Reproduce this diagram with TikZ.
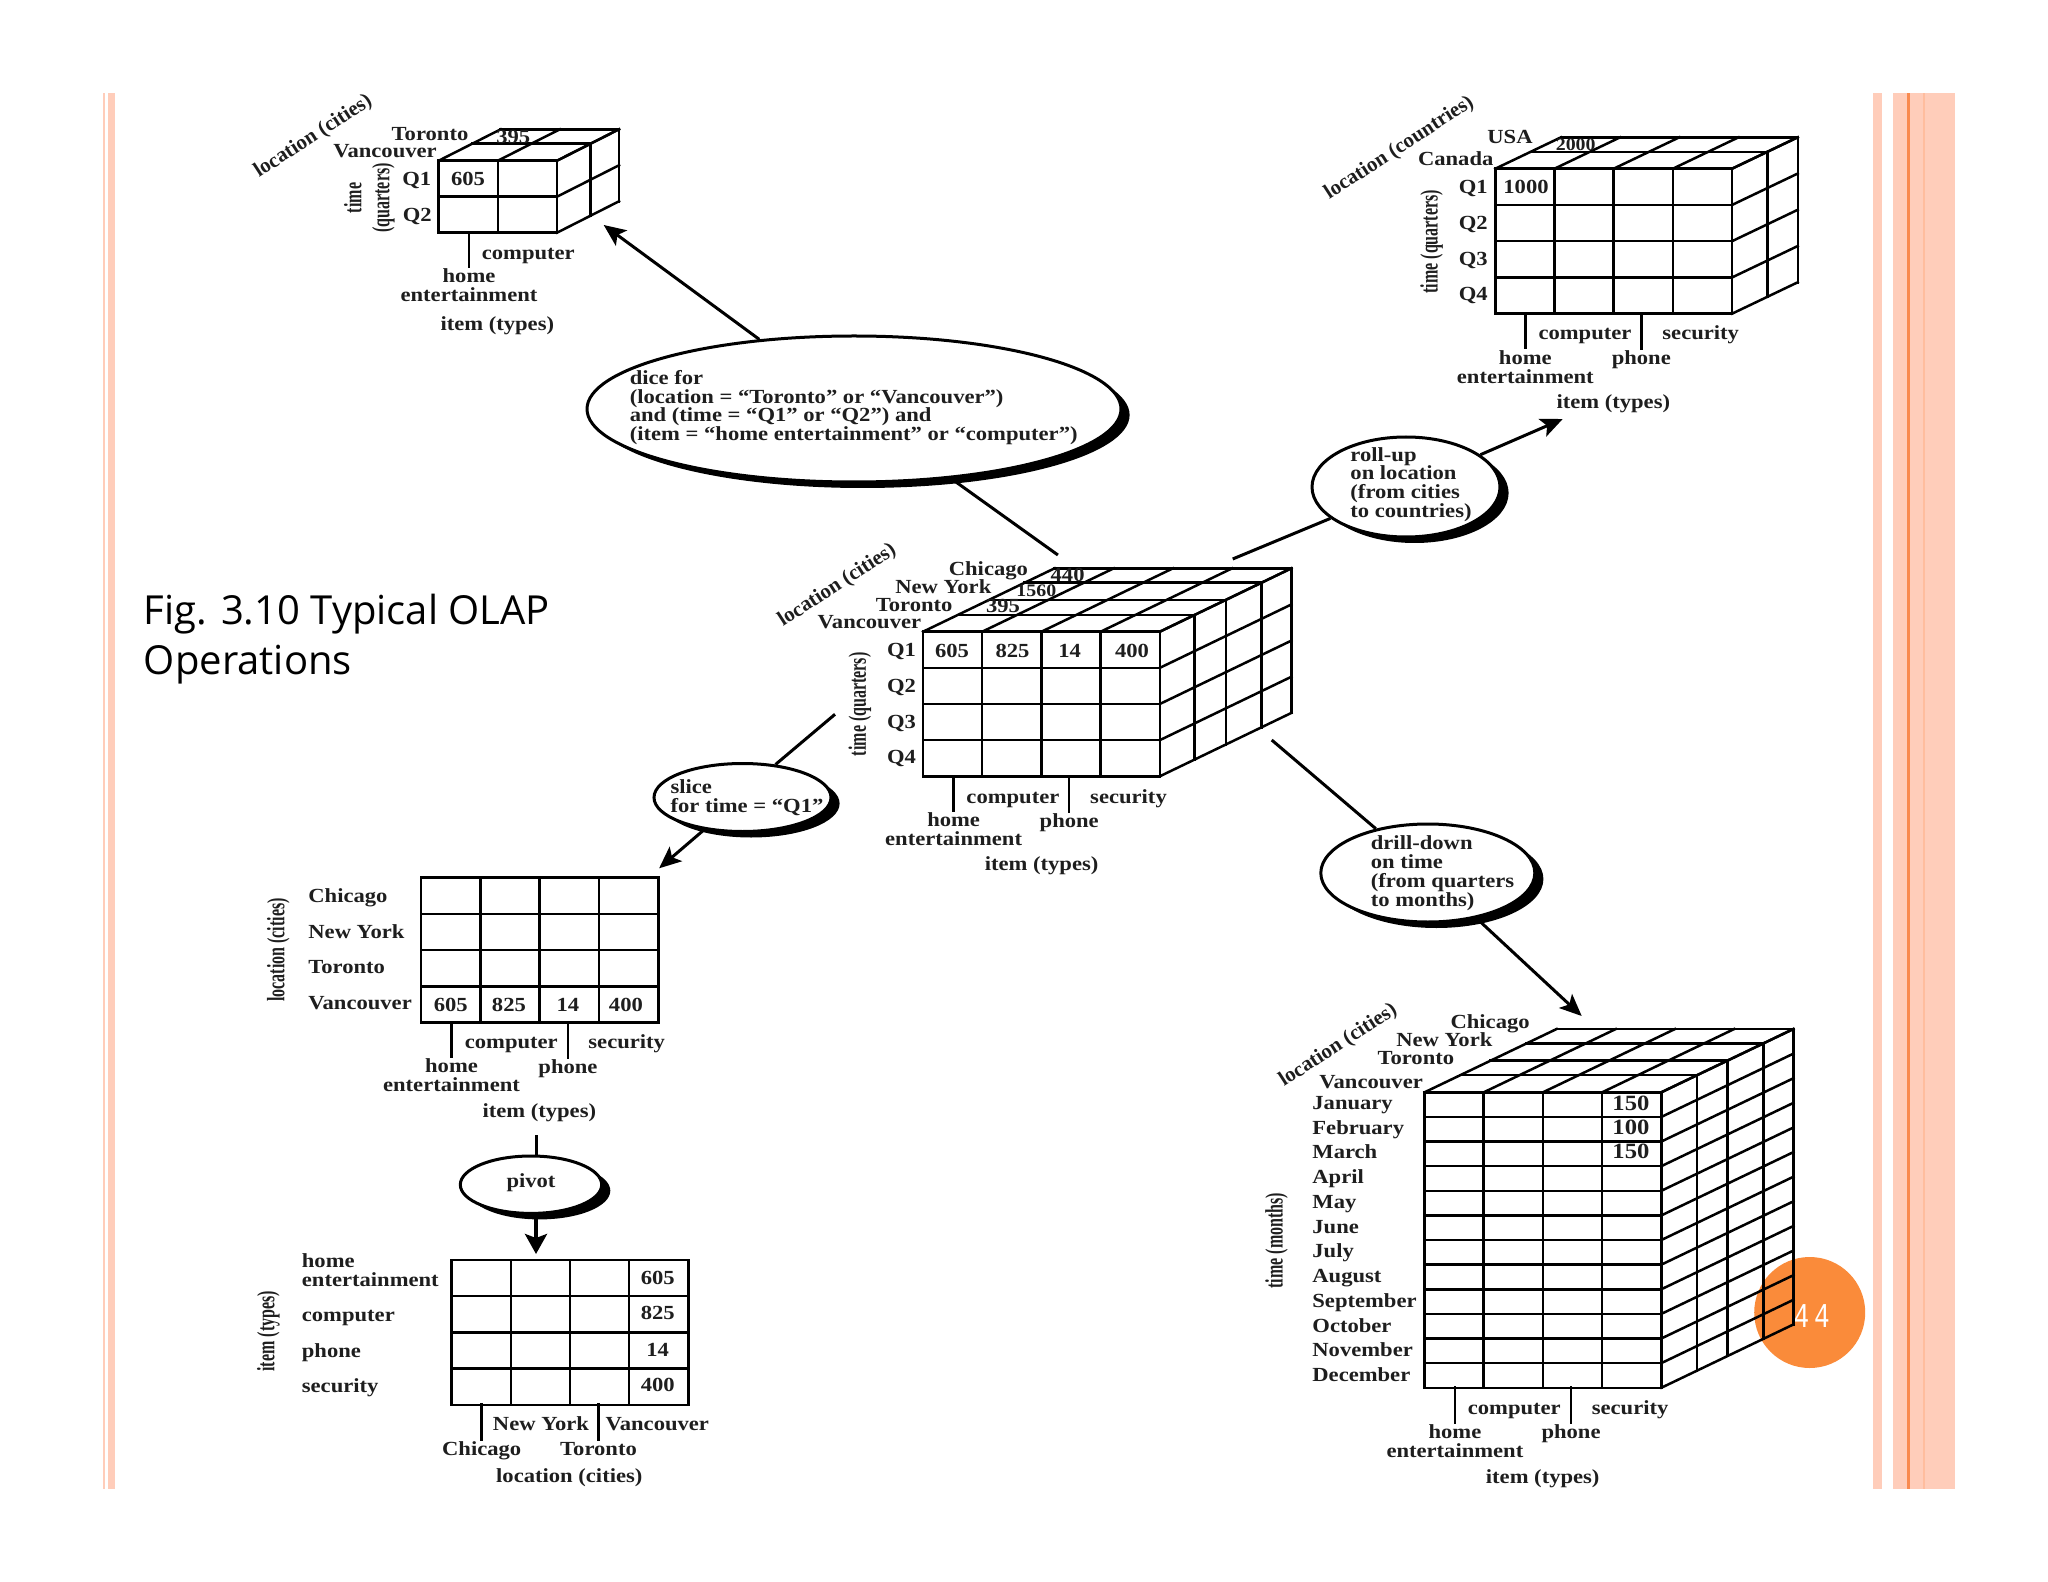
\documentclass[tikz,border=0pt]{standalone}
\usepackage{xcolor}
\usepackage{fontspec}
\usepackage{tikz}
\usetikzlibrary{shapes.geometric, arrows.meta, shadows}
\newfontfamily\lblfont[FakeStretch=1.13]{Liberation Serif}
\newfontfamily\axisfont{Liberation Serif}
\newfontfamily\narrowfont[FakeStretch=0.64]{Liberation Serif}
\newfontfamily\titlefont{Open Sans}
\newfontfamily\pagefont[FakeStretch=0.75]{Liberation Mono}
\definecolor{inktext}{RGB}{30, 30, 30}
\definecolor{peach}{RGB}{255, 205, 186}
\definecolor{peachmid}{RGB}{255, 189, 158}
\definecolor{peachdark}{RGB}{249, 138, 79}
\definecolor{badge}{RGB}{250, 139, 58}

% front face as a grid: x0, y0, column width, row height, columns, rows
\newcommand{\facegrid}[6]{%
  \foreach \c in {0,...,#5} \draw[cell] ({#1+\c*#3},#2) -- ++(0,{#6*#4});
  \foreach \r in {0,...,#6} \draw[cell] (#1,{#2+\r*#4}) -- ++({#5*#3},0);
}
% top and side of a cube: same six, then depth dx, dy, stops along the depth
\newcommand{\cubegrid}[9]{%
  \facegrid{#1}{#2}{#3}{#4}{#5}{#6}
  \foreach \c in {0,...,#5} \draw[cell] ({#1+\c*#3},#2) -- ++(#7,#8);
  \foreach \r in {0,...,#6} \draw[cell] ({#1+#5*#3},{#2+\r*#4}) -- ++(#7,#8);
  \foreach \f in {#9} \draw[cell] ({#1+\f*#7},{#2+\f*#8}) -- ++({#5*#3},0) -- ++(0,{#6*#4});
}

\begin{document}
\begin{tikzpicture}[x=0.5pt, y=-0.5pt,
  cell/.style={line width=1.25pt, line cap=rect, color=black},
  tick/.style={cell, shorten <=1pt},
  lblm/.style={font=\fontsize{10pt}{9.4pt}\selectfont\lblfont\bfseries,
    text=inktext, inner sep=0pt, align=center},
  lbl/.style={lblm, text height=6.6pt, text depth=0pt},
  lblw/.style={lbl, anchor=west},
  lblsm/.style={lbl, font=\fontsize{8.8pt}{9.4pt}\selectfont\lblfont\bfseries},
  lblbig/.style={lbl, font=\fontsize{10.9pt}{9.4pt}\selectfont\lblfont\bfseries},
  axis/.style={lblm, rotate=33, font=\fontsize{10.5pt}{9.4pt}\selectfont\axisfont\bfseries},
  axisv/.style={lblm, rotate=90,
    font=\fontsize{12.5pt}{14pt}\selectfont\narrowfont\bfseries},
  op/.style={ellipse, draw=black, fill=white, line width=1.5pt, inner sep=0pt,
    drop shadow={shadow xshift=4.3pt, shadow yshift=-3pt, fill=black, opacity=1}},
  arr/.style={-{Stealth[length=11pt, width=9.5pt, inset=2.5pt]}, line width=1.5pt},
  arrb/.style={-{Stealth[length=10pt, width=11pt, inset=2pt]}, line width=1.9pt},
  plain/.style={line width=1.5pt},
  band/.style={fill=peach, draw=none}
]
\useasboundingbox (0,0) rectangle (2048,1582);
\fill[white] (0,0) rectangle (2048,1582);
% Slide decoration
\fill[band] (103,92.7) rectangle (105.3,1489);
\fill[band] (107.5,92.7) rectangle (114.5,1489);
\fill[band] (1873.3,92.7) rectangle (1881.7,1489);
\fill[band] (1893,92.7) rectangle (1955,1489);
\fill[peachmid] (1923.3,92.7) rectangle (1925.3,1489);
\fill[peachdark] (1906.7,92.7) rectangle (1909.7,1489);
\node[circle, fill=badge, minimum size=55.5pt, inner sep=0pt] at (1809.7,1312.5) (badge) {};
\node[font=\fontsize{17.4pt}{17pt}\selectfont\pagefont, text=white, inner sep=0pt]
  at (1811.6,1316) (pageno) {4\kern2.4pt 4};
\node[font=\fontsize{20pt}{25pt}\selectfont\titlefont, align=left, anchor=west, inner sep=0pt]
  at (143.5,639) (title) {Fig. 3.10 Typical OLAP\\Operations};

% Main cube
\cubegrid{923}{631.7}{59.2}{36.15}{4}{4}{131.6}{-63.4}{0.264,0.503,0.773,1}
\coordinate (cbase) at (923,776.3);
\node[axis] at (837.3,585.7) (cloc) {location (cities)};
\node[axisv] at (859.8,704.3) (ctime) {time (quarters)};
\node[lbl] at (988.4,569) (cchi) {Chicago};
\node[lbl] at (943.3,587.3) (cny) {New York};
\node[lbl] at (914.2,604.7) (ctor) {Toronto};
\node[lbl] at (869.4,622) (cvan) {Vancouver};
\node[lbl] at (1067.6,575) (c440) {440};
\node[lblsm] at (1036.3,590) (c1560) {1560};
\node[lbl] at (1003,606) (c395) {395};
\foreach \q [count=\i] in {Q1,Q2,Q3,Q4}
  \node[lbl] at (901.5,{650+(\i-1)*35.7}) (cq\i) {\q};
\node[lbl] at (952,650.5) (c605) {605};
\node[lbl] at (1012.5,650.5) (c825) {825};
\node[lbl] at (1069.6,650.5) (c14) {14};
\node[lbl] at (1132,650.5) (c400) {400};
\node[lblm] at (953.6,829.5) (chome) {home\\entertainment};
\node[lbl] at (1012.9,796.7) (ccomp) {computer};
\node[lbl] at (1069.2,821) (cphone) {phone};
\node[lbl] at (1128.5,796.7) (csec) {security};
\node[lbl] at (1041.6,864.3) (citem) {item (types)};
\draw[tick] (chome.north) -- (chome.north |- cbase);
\draw[tick] (cphone.north) -- (cphone.north |- cbase);

% Dice result
\cubegrid{438.7}{160.7}{59.15}{36}{2}{2}{62}{-31.4}{0.543,1}
\coordinate (dbase) at (438.7,232.7);
\node[axis] at (313.3,136.7) (dloc) {location (cities)};
\node[axisv] at (369.3,198) (dtime) {time\\(quarters)};
\node[lbl] at (430,134.3) (dtor) {Toronto};
\node[lbl] at (385,151) (dvan) {Vancouver};
\node[lbl] at (513.3,136.7) (d395) {395};
\node[lbl] at (416.7,179.3) (dq1) {Q1};
\node[lbl] at (417.3,215) (dq2) {Q2};
\node[lbl] at (468,179.3) (d605) {605};
\node[lblm] at (469,285.5) (dhome) {home\\entertainment};
\node[lbl] at (528.3,252.7) (dcomp) {computer};
\node[lbl] at (497.3,324.3) (ditem) {item (types)};
\draw[tick] (dhome.north) -- (dhome.north |- dbase);

% Roll-up result
\cubegrid{1495.3}{168.7}{59.18}{36.25}{4}{4}{65.7}{-31.4}{0.538,1}
\coordinate (rbase) at (1495.3,313.7);
\node[axis] at (1399.3,148.3) (rloc) {location (countries)};
\node[axisv] at (1431.7,241.7) (rtime) {time (quarters)};
\node[lbl] at (1510,137.3) (rusa) {USA};
\node[lbl] at (1455.7,159) (rcan) {Canada};
\node[lblsm] at (1575.7,144) (r2000) {2000};
\foreach \q [count=\i] in {Q1,Q2,Q3,Q4}
  \node[lbl] at (1473.3,{187.3+(\i-1)*35.6}) (rq\i) {\q};
\node[lbl] at (1526,187.3) (r1000) {1000};
\node[lblm] at (1525.3,366.8) (rhome) {home\\entertainment};
\node[lbl] at (1585,333.3) (rcomp) {computer};
\node[lbl] at (1641.3,357.7) (rphone) {phone};
\node[lbl] at (1700.7,333.3) (rsec) {security};
\node[lbl] at (1613.3,402) (ritem) {item (types)};
\draw[tick] (rhome.north) -- (rhome.north |- rbase);
\draw[tick] (rphone.north) -- (rphone.north |- rbase);

% Drill-down result
\cubegrid{1424.5}{1092.3}{59.2}{24.62}{4}{12}{132.1}{-63.3}{0.27,0.50,0.772,1}
\coordinate (mbase) at (1424.5,1387.7);
\node[axis] at (1338.3,1045.7) (mloc) {location (cities)};
\node[axisv] at (1276.6,1240.7) (mtime) {time (months)};
\node[lbl] at (1490.1,1022.3) (mchi) {Chicago};
\node[lbl] at (1444.3,1040.3) (mny) {New York};
\node[lbl] at (1415.8,1058.3) (mtor) {Toronto};
\node[lbl] at (1371.1,1082) (mvan) {Vancouver};
\foreach \mon [count=\i] in {January,February,March,April,May,June,July,August,September,October,November,December}
  \node[lblw] at (1312,{1102.7+(\i-1)*24.75}) (mon\i) {\mon};
\node[lblbig] at (1630.9,1104) (m150a) {150};
\node[lblbig] at (1630.9,1128) (m100) {100};
\node[lblbig] at (1630.9,1152) (m150b) {150};
\node[lblm] at (1454.9,1441.2) (mhome) {home\\entertainment};
\node[lbl] at (1514.3,1407.7) (mcomp) {computer};
\node[lbl] at (1571,1432) (mphone) {phone};
\node[lbl] at (1630.1,1407.7) (msec) {security};
\node[lbl] at (1542.7,1476.7) (mitem) {item (types)};
\draw[tick] (mhome.north) -- (mhome.north |- mbase);
\draw[tick] (mphone.north) -- (mphone.north |- mbase);

% Slice result
\facegrid{421.1}{877.7}{59.3}{36.25}{4}{4}
\coordinate (sbase) at (421.1,1022.7);
\node[axisv] at (278.4,950) (sloc) {location (cities)};
\node[lblw] at (308,896.3) (schi) {Chicago};
\node[lblw] at (308,931.7) (sny) {New York};
\node[lblw] at (308,967.3) (stor) {Toronto};
\node[lblw] at (308,1003.3) (svan) {Vancouver};
\node[lbl] at (450.8,1005) (s605) {605};
\node[lbl] at (508.9,1005) (s825) {825};
\node[lbl] at (567.8,1005) (s14) {14};
\node[lbl] at (625.9,1005) (s400) {400};
\node[lblm] at (451.5,1075.5) (shome) {home\\entertainment};
\node[lbl] at (511.3,1042) (scomp) {computer};
\node[lbl] at (568,1066.7) (sphone) {phone};
\node[lbl] at (626.7,1042) (ssec) {security};
\node[lbl] at (539.3,1110.7) (sitem) {item (types)};
\draw[tick] (shome.north) -- (shome.north |- sbase);
\draw[tick] (sphone.north) -- (sphone.north |- sbase);

% Pivot result
\facegrid{451.7}{1260}{59.15}{36.2}{4}{4}
\coordinate (pbase) at (451.7,1404.7);
\node[axisv] at (268.3,1331.3) (pitem) {item (types)};
\node[lblm, anchor=west, align=left] at (301.5,1270) (phome) {home\\entertainment};
\node[lblw] at (301.5,1315.3) (pcomp) {computer};
\node[lblw] at (301.5,1350.7) (pphone) {phone};
\node[lblw] at (301.5,1386) (psec) {security};
\node[lbl] at (657.7,1278) (p605) {605};
\node[lbl] at (657.7,1313.3) (p825) {825};
\node[lbl] at (657.7,1349.7) (p14) {14};
\node[lbl] at (657.7,1384.7) (p400) {400};
\node[lbl] at (481.7,1449) (pchi) {Chicago};
\node[lbl] at (541,1424.3) (pny) {New York};
\node[lbl] at (598.5,1449) (ptor) {Toronto};
\node[lbl] at (657.3,1424.3) (pvan) {Vancouver};
\node[lbl] at (569.3,1476) (ploc) {location (cities)};
\draw[tick] (pchi.north) -- (pchi.north |- pbase);
\draw[tick] (ptor.north) -- (ptor.north |- pbase);

% Operation ellipses
\node[op, minimum width=267pt, minimum height=73pt] at (854,409) (dice) {};
\node[op, minimum width=94pt, minimum height=50pt] at (1406,487) (rollup) {};
\node[op, minimum width=107pt, minimum height=49pt] at (1427.8,873) (drill) {};
\node[op, minimum width=88.5pt, minimum height=34pt] at (742.5,797.5) (slice) {};
\node[op, minimum width=70.7pt, minimum height=28.7pt] at (531,1184.7) (pivot) {};
\node[lblm, align=left] at (853.7,407.5) (dicetxt) {dice for\\(location = “Toronto” or “Vancouver”)\\and (time = “Q1” or “Q2”) and\\(item = “home entertainment” or “computer”)};
\node[lblm, align=left] at (1411,484.5) (rolltxt) {roll-up\\on location\\(from cities\\to countries)};
\node[lblm, align=left] at (1442.5,873.2) (drilltxt) {drill-down\\on time\\(from quarters\\to months)};
\node[lblm, align=left] at (747,798) (slicetxt) {slice\\for time = “Q1”};
\node[lbl] at (531,1180.7) (pivottxt) {pivot};

% Connectors
\coordinate (dicefrom) at (1057.9,555);
\coordinate (dicetip) at (603.7,225);
\coordinate (rollfrom) at (1232.7,559);
\coordinate (rolltip) at (1562.7,419);
\coordinate (drillfrom) at (1271.7,740);
\coordinate (drilltip) at (1581.7,1016);
\coordinate (slicefrom) at (835,714.3);
\coordinate (slicetip) at (659.1,868.3);
\coordinate (pivotfrom) at (536,1135);
\coordinate (pivottip) at (536,1254);
\draw[plain] (dicefrom) -- (dice);
\draw[arr] (dice) -- (dicetip);
\draw[plain] (rollfrom) -- (rollup);
\draw[arr] (rollup) -- (rolltip);
\draw[plain] (drillfrom) -- (drill);
\draw[arr] (drill) -- (drilltip);
\draw[plain] (slicefrom) -- (slice.45);
\draw[arr] (slice.220) -- (slicetip);
\draw[plain] (pivotfrom) -- (pivotfrom |- pivot.north);
\draw[arrb] (pivotfrom |- pivot.south) -- (pivottip);
\end{tikzpicture}
\end{document}
